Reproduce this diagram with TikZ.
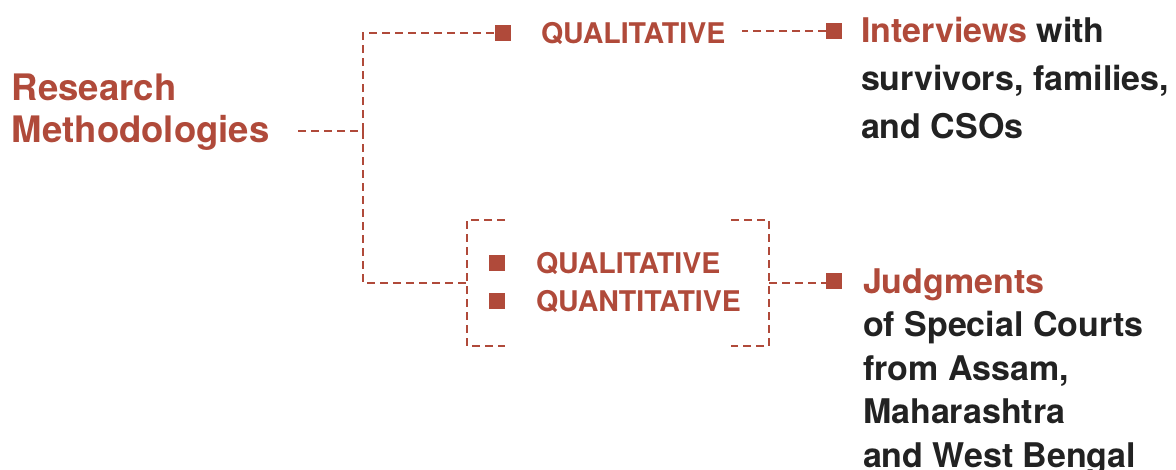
\documentclass[tikz,border=0pt]{standalone}
\usepackage{fontspec}
\setmainfont{TeX Gyre Heros}
\usetikzlibrary{positioning}
\definecolor{brick}{HTML}{B04A3A}
\definecolor{ink}{HTML}{222222}

\begin{document}
\begin{tikzpicture}[x=1pt, y=-1pt,
    every node/.style={inner sep=0pt, outer sep=0pt},
    head/.style={font=\fontsize{36.5}{42}\selectfont\bfseries, text=brick, align=left, anchor=base west},
    tag/.style={font=\fontsize{28.5}{30}\selectfont\bfseries, text=brick, anchor=base west},
    desc/.style={font=\fontsize{34}{48}\selectfont\bfseries, text=ink, align=left, anchor=base west},
    bullet/.style={fill=brick, minimum size=16pt},
    link/.style={draw=brick, line width=2.3pt, dash pattern=on 8pt off 5pt},
  ]
  \useasboundingbox (0,0) rectangle (1176,469);

  % the root and its fork (base is the last line)
  \node[head] (root) at (12,142) {Research\\Methodologies};
  \coordinate (stem) at (298,131);
  \coordinate (fork) at (363,131);
  \draw[link] (stem) -- (fork);

  % upper branch
  \node[bullet] (b1) at (503,33) {};
  \node[tag] (qual1) at (541,43) {QUALITATIVE};
  \node[bullet] (b2) at (834,31) {};
  \draw[link] (fork) |- (b1.west);
  \draw[link, shorten >=17pt] (b2.west) -- (b2.west -| qual1.east);

  % lower branch, the bracketed pair
  \node[minimum width=302pt, minimum height=126pt] (mix) at (618,283) {};
  \draw[link] ([xshift=38pt]mix.north west) -- (mix.north west) -- (mix.south west) -- ++(38,0);
  \draw[link] ([xshift=-38pt]mix.north east) -- (mix.north east) -- (mix.south east) -- ++(-38,0);
  \node[bullet] (b3) at (497,263) {};
  \node[bullet] (b4) at (497,301) {};
  \node[tag] (qual2) at (536,273) {QUALITATIVE};
  \node[tag] (quant) at (536,311) {QUANTITATIVE};
  \node[bullet] (b5) at (834,281) {};
  \draw[link] (fork) |- (mix.west);
  \draw[link] (mix.east) -- (mix.east -| b5.west);

  % sources
  \node[desc] (interviews) at (861,138)
       {\textcolor{brick}{Interviews} with\\survivors, families,\\and CSOs};
  \node[desc, font=\fontsize{34}{43.5}\selectfont\bfseries] (judgments) at (863,467)
       {\textcolor{brick}{Judgments}\\of Special Courts\\from Assam,\\Maharashtra\\and West Bengal};
\end{tikzpicture}
\end{document}
